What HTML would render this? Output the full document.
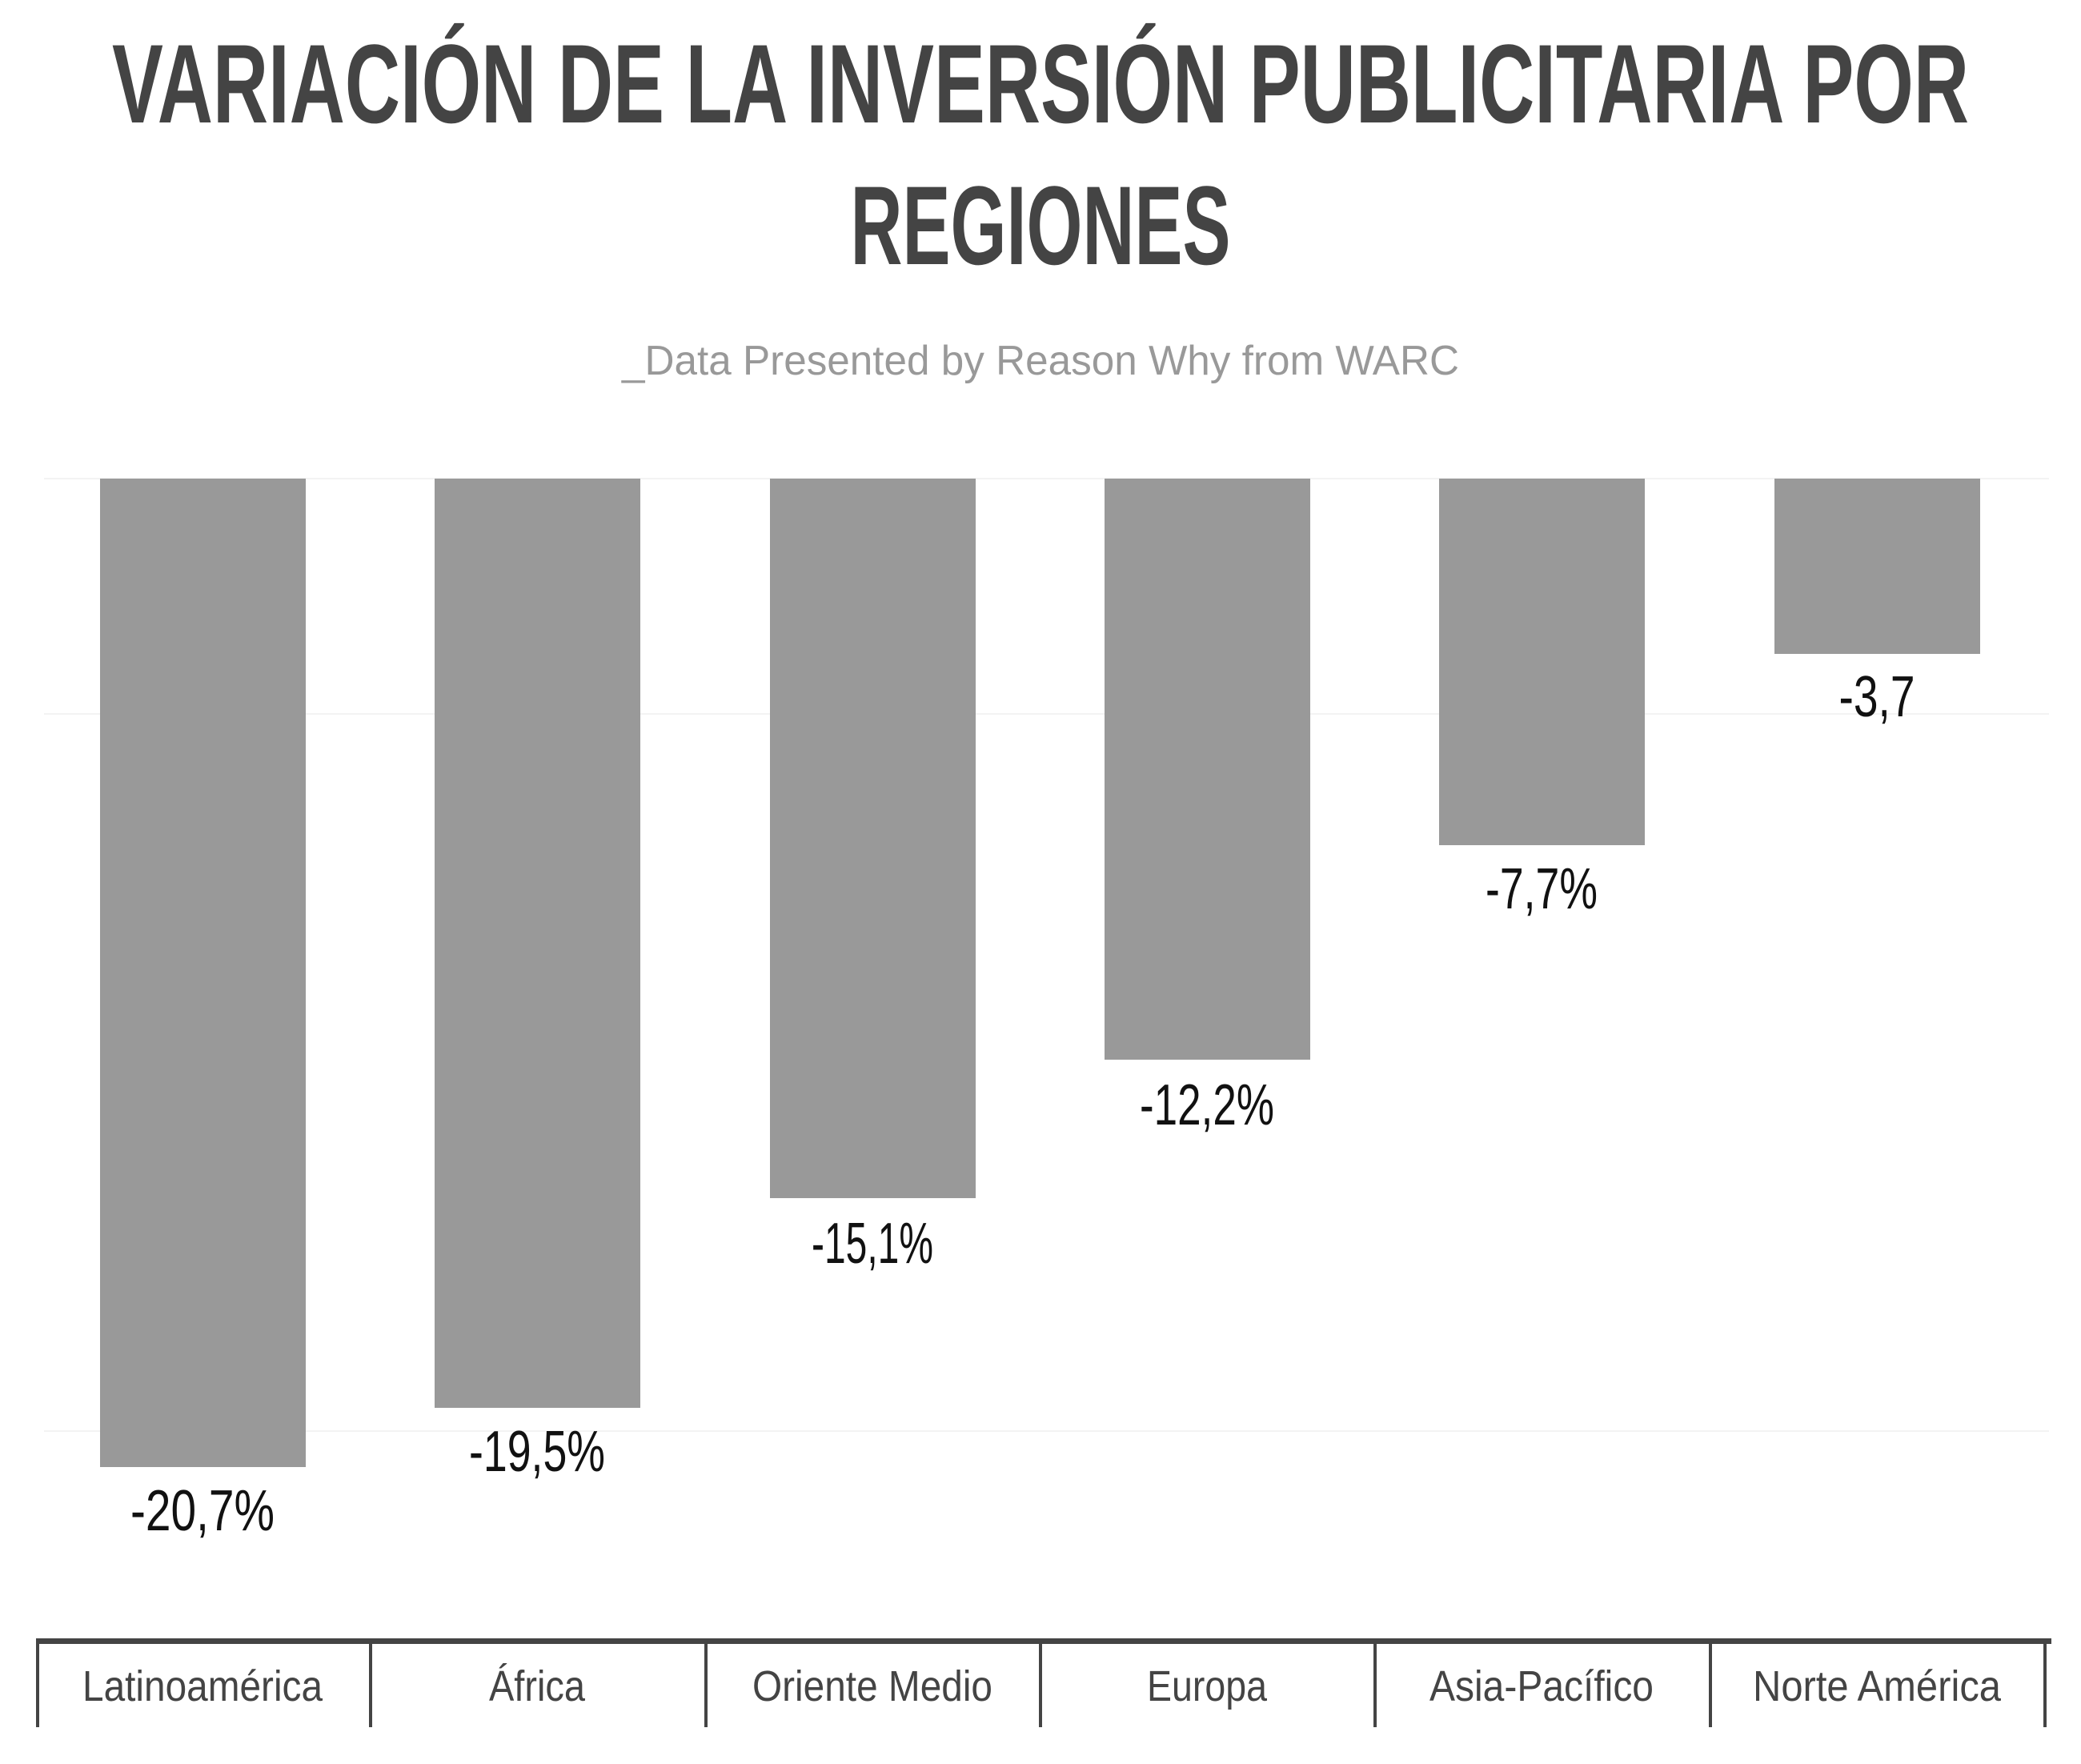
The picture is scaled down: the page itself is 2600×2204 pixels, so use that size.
<!DOCTYPE html>
<html><head><meta charset="utf-8"><style>html,body{margin:0;padding:0;background:#fff}svg{display:block}</style></head>
<body>
<svg width="2600" height="2204" viewBox="0 0 2600 2204" xmlns="http://www.w3.org/2000/svg">
<g font-family="Liberation Sans, sans-serif">
<text x="1300" y="153" text-anchor="middle" font-size="140" font-weight="bold" fill="#444" textLength="2320" lengthAdjust="spacingAndGlyphs">VARIACIÓN DE LA INVERSIÓN PUBLICITARIA POR</text>
<text x="1300" y="330" text-anchor="middle" font-size="140" font-weight="bold" fill="#444" textLength="475" lengthAdjust="spacingAndGlyphs">REGIONES</text>
<text x="1300" y="468" text-anchor="middle" font-size="52" fill="#999" textLength="1046" lengthAdjust="spacingAndGlyphs">_Data Presented by Reason Why from WARC</text>
<line x1="55" y1="598" x2="2560" y2="598" stroke="#f3f3f3" stroke-width="2"/>
<line x1="55" y1="892" x2="2560" y2="892" stroke="#f3f3f3" stroke-width="2"/>
<line x1="55" y1="1788" x2="2560" y2="1788" stroke="#f3f3f3" stroke-width="2"/>
<g fill="#999">
<rect x="125" y="598" width="257" height="1235"/>
<rect x="543" y="598" width="257" height="1161"/>
<rect x="962" y="598" width="257" height="899"/>
<rect x="1380" y="598" width="257" height="726"/>
<rect x="1798" y="598" width="257" height="458"/>
<rect x="2217" y="598" width="257" height="219"/>
</g>
<g font-size="72" fill="#111" text-anchor="middle">
<text x="253" y="1912" textLength="180" lengthAdjust="spacingAndGlyphs">-20,7%</text>
<text x="671" y="1838" textLength="170" lengthAdjust="spacingAndGlyphs">-19,5%</text>
<text x="1090" y="1578" textLength="152" lengthAdjust="spacingAndGlyphs">-15,1%</text>
<text x="1508" y="1405" textLength="168" lengthAdjust="spacingAndGlyphs">-12,2%</text>
<text x="1926" y="1135" textLength="140" lengthAdjust="spacingAndGlyphs">-7,7%</text>
<text x="2345" y="895" textLength="95" lengthAdjust="spacingAndGlyphs">-3,7</text>
</g>
<rect x="45" y="2047" width="2518" height="7" fill="#444"/>
<g stroke="#444" stroke-width="4">
<line x1="47" y1="2050" x2="47" y2="2158"/>
<line x1="463" y1="2050" x2="463" y2="2158"/>
<line x1="882" y1="2050" x2="882" y2="2158"/>
<line x1="1300" y1="2050" x2="1300" y2="2158"/>
<line x1="1718" y1="2050" x2="1718" y2="2158"/>
<line x1="2137" y1="2050" x2="2137" y2="2158"/>
<line x1="2555" y1="2050" x2="2555" y2="2158"/>
</g>
<g font-size="54" fill="#444" text-anchor="middle">
<text x="253" y="2125" textLength="300" lengthAdjust="spacingAndGlyphs">Latinoamérica</text>
<text x="671" y="2125" textLength="120" lengthAdjust="spacingAndGlyphs">África</text>
<text x="1090" y="2125" textLength="300" lengthAdjust="spacingAndGlyphs">Oriente Medio</text>
<text x="1508" y="2125" textLength="150" lengthAdjust="spacingAndGlyphs">Europa</text>
<text x="1926" y="2125" textLength="280" lengthAdjust="spacingAndGlyphs">Asia-Pacífico</text>
<text x="2345" y="2125" textLength="310" lengthAdjust="spacingAndGlyphs">Norte América</text>
</g>
</g>
</svg>
</body></html>
